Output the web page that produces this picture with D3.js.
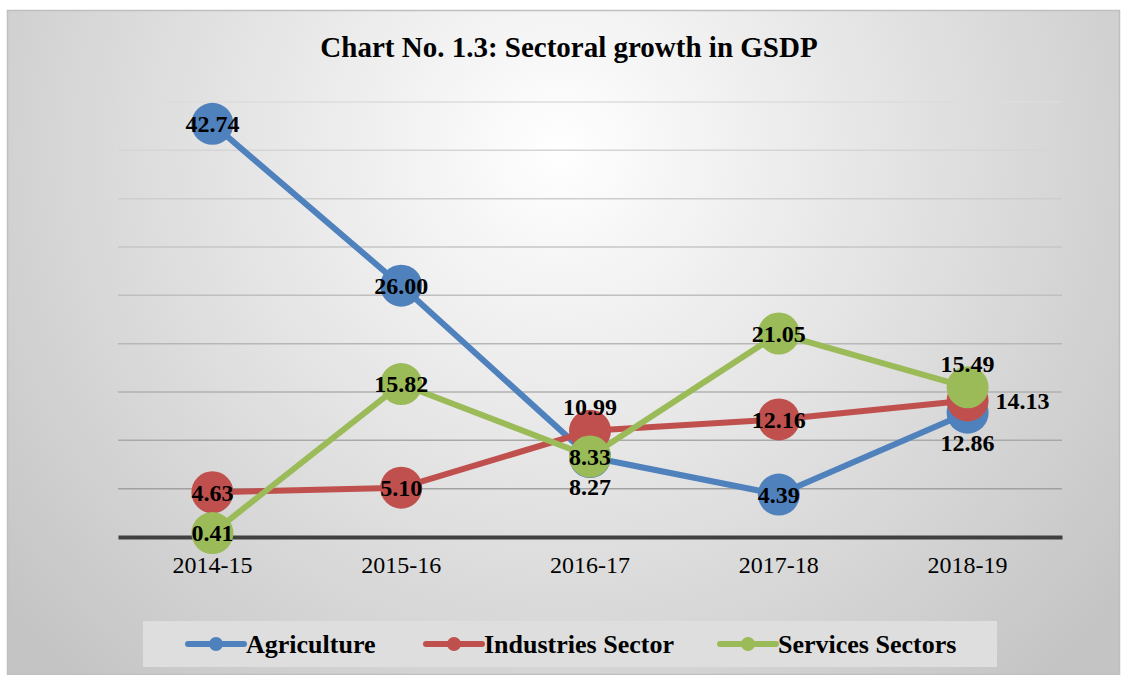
<!DOCTYPE html>
<html>
<head>
<meta charset="utf-8">
<script src="https://cdn.jsdelivr.net/npm/d3@7"></script>
<style>
  body { margin: 0; background: #fff; }
  text { font-family: "Liberation Serif", "Times New Roman", serif; }
</style>
</head>
<body>
<div id="chart"></div>
<script>
const categories = ['2014-15', '2015-16', '2016-17', '2017-18', '2018-19']
const agriculture = [42.74, 26.00, 8.27, 4.39, 12.86]
const industries = [4.63, 5.10, 10.99, 12.16, 14.13]
const services = [0.41, 15.82, 8.33, 21.05, 15.49]
const yTicks = [0, 5, 10, 15, 20, 25, 30, 35, 40, 45]

// label placement per point: c = centre, a = above, b = below, r = right
const series = [
  { name: 'Agriculture', values: agriculture, color: '#4f81bd', pos: ['c', 'c', 'b', 'c', 'b'] },
  { name: 'Industries Sector', values: industries, color: '#c0504d', pos: ['c', 'c', 'a', 'c', 'r'] },
  { name: 'Services Sectors', values: services, color: '#9bbb59', pos: ['c', 'c', 'c', 'c', 'a'] }
]

const W = 1123
const H = 675
const margin = { top: 102, right: 61, bottom: 138, left: 118 }
const width = W - margin.left - margin.right
const height = H - margin.top - margin.bottom

const svg = d3.select('#chart').append('svg')
  .attr('width', W)
  .attr('height', H)

const defs = svg.append('defs')
const grad = defs.append('radialGradient')
  .attr('id', 'bg')
  .attr('gradientUnits', 'userSpaceOnUse')
  .attr('cx', 560).attr('cy', 150).attr('r', 720)
grad.append('stop').attr('offset', '0%').attr('stop-color', '#ffffff')
grad.append('stop').attr('offset', '100%').attr('stop-color', '#c4c4c4')

svg.append('rect')
  .attr('x', 7.5).attr('y', 10.5)
  .attr('width', 1112).attr('height', 664)
  .attr('fill', 'url(#bg)')
  .attr('stroke', '#bfbfbf')
  .attr('stroke-width', 1.5)

svg.append('text')
  .attr('x', 569)
  .attr('y', 57)
  .attr('text-anchor', 'middle')
  .attr('font-size', 29)
  .attr('font-weight', 'bold')
  .text('Chart No. 1.3: Sectoral growth in GSDP')

const g = svg.append('g')
  .attr('transform', 'translate(' + margin.left + ',' + margin.top + ')')

const xScale = d3.scaleBand()
  .domain(categories)
  .range([0, width])

const yScale = d3.scaleLinear()
  .domain([0, 45])
  .range([height, 0])

const gridColor = d3.scaleLinear()
  .domain([0, 45])
  .range(['#9a9a9a', '#dcdcdc'])

// gridlines
g.selectAll('.grid')
  .data(yTicks.filter(d => d > 0))
  .enter().append('line')
  .attr('class', 'grid')
  .attr('x1', 0)
  .attr('x2', width)
  .attr('y1', d => yScale(d))
  .attr('y2', d => yScale(d))
  .attr('stroke', d => gridColor(d))
  .attr('stroke-width', 1.5)

// x axis
const xAxis = g.append('g')
  .attr('transform', 'translate(0,' + height + ')')
  .call(d3.axisBottom(xScale).tickSize(0).tickPadding(19))
xAxis.select('.domain')
  .attr('stroke', '#404040')
  .attr('stroke-width', 4)
xAxis.selectAll('text')
  .attr('font-size', 24)
  .attr('font-family', '"Liberation Serif", serif')
  .attr('fill', '#000')
  .attr('dy', '0.71em')

const cx = (d, i) => xScale(categories[i]) + xScale.bandwidth() / 2

const line = d3.line()
  .x((d, i) => cx(d, i))
  .y(d => yScale(d))

series.forEach(s => {
  g.append('path')
    .datum(s.values)
    .attr('fill', 'none')
    .attr('stroke', s.color)
    .attr('stroke-width', 6)
    .attr('stroke-linejoin', 'round')
    .attr('d', line)
})

series.forEach(s => {
  g.selectAll(null)
    .data(s.values)
    .enter().append('circle')
    .attr('cx', cx)
    .attr('cy', d => yScale(d))
    .attr('r', 21)
    .attr('fill', s.color)
})

series.forEach(s => {
  g.selectAll(null)
    .data(s.values)
    .enter().append('text')
    .attr('x', (d, i) => cx(d, i) + (s.pos[i] === 'r' ? 28 : 0))
    .attr('y', (d, i) => yScale(d) + (s.pos[i] === 'a' ? -24 : s.pos[i] === 'b' ? 30 : 0))
    .attr('dy', '0.35em')
    .attr('text-anchor', (d, i) => s.pos[i] === 'r' ? 'start' : 'middle')
    .attr('font-size', 24)
    .attr('font-weight', 'bold')
    .text(d => d.toFixed(2))
})

// legend
const legend = svg.append('g')
legend.append('rect')
  .attr('x', 143).attr('y', 621)
  .attr('width', 854).attr('height', 46)
  .attr('fill', '#dedede')

const legendX = [188, 426, 720]
series.forEach((s, i) => {
  const lg = legend.append('g').attr('transform', 'translate(' + legendX[i] + ',644)')
  lg.append('line')
    .attr('x1', 0).attr('x2', 56)
    .attr('stroke', s.color)
    .attr('stroke-width', 6)
    .attr('stroke-linecap', 'round')
  lg.append('circle')
    .attr('cx', 28).attr('r', 7)
    .attr('fill', s.color)
  lg.append('text')
    .attr('x', 58)
    .attr('dy', '0.35em')
    .attr('font-size', 26)
    .attr('font-weight', 'bold')
    .text(s.name)
})
</script>
</body>
</html>
